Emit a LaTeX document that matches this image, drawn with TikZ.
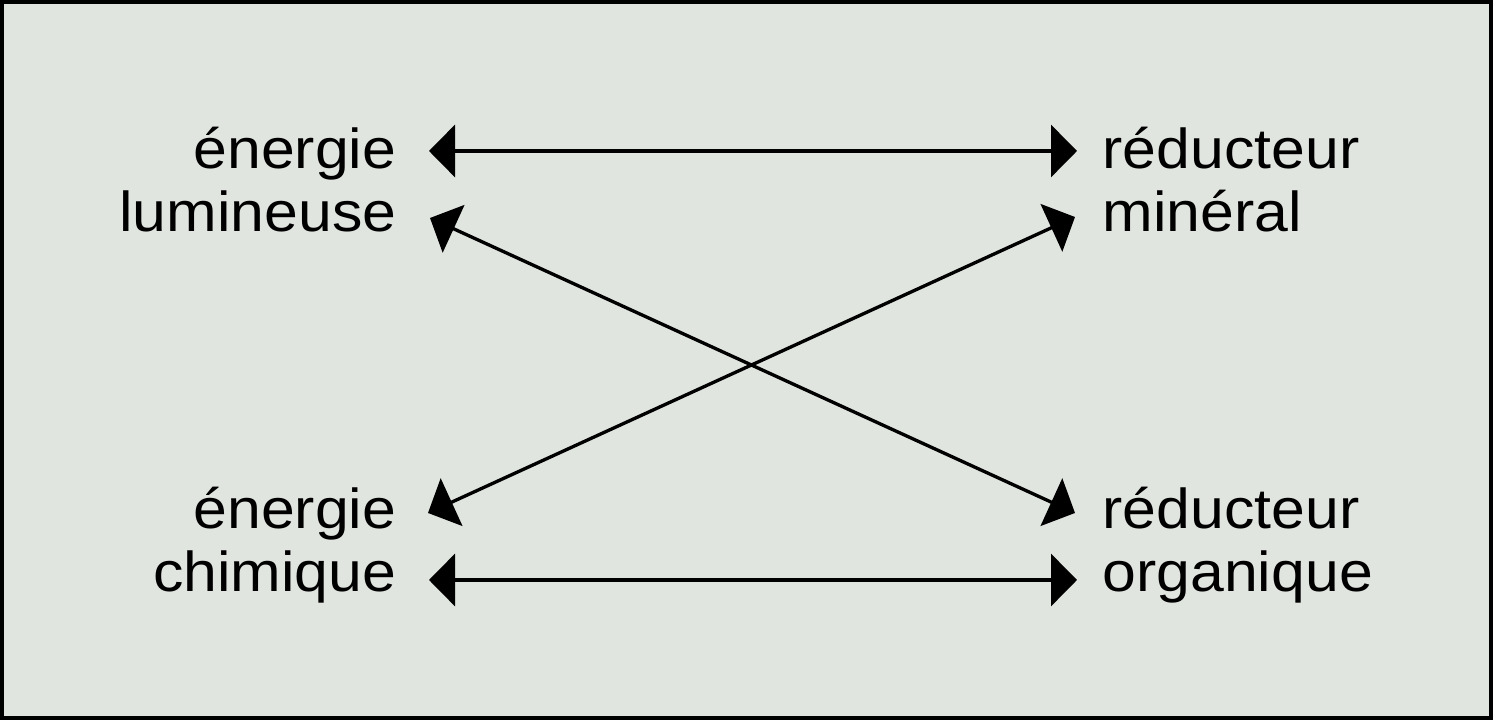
\documentclass[tikz,border=0pt]{standalone}
\usepackage{fontspec}
\setmainfont{Liberation Sans}[FakeStretch=1.08]
\usepackage{xcolor}
\usetikzlibrary{arrows.meta}

\definecolor{panelgray}{RGB}{225,229,224}

\begin{document}
\begin{tikzpicture}[
        >={Triangle[length=0.26cm,width=0.52cm]},
        txt/.style={font=\fontsize{16}{18.2}\selectfont, inner sep=0pt},
        link/.style={<->, line width=0.95pt}
    ]
        \useasboundingbox (0,0) rectangle (15,7.22);
        \draw[line width=0.04cm, fill=panelgray] (0.02,0.04) rectangle (14.905,7.20);

        % Labels left and right (base = last line)
        \node[txt, align=right, anchor=base east] (enlum) at (3.97,4.90) {énergie\\lumineuse};
        \node[txt, align=right, anchor=base east] (enchim) at (3.97,1.30) {énergie\\chimique};
        \node[txt, align=left, anchor=base west] (redmin) at (11.02,4.90) {réducteur\\minéral};
        \node[txt, align=left, anchor=base west] (redorg) at (11.02,1.30) {réducteur\\organique};

        % Arrow ends
        \coordinate (lumTop) at (4.29,5.71);
        \coordinate (lumLow) at (4.30,5.04);
        \coordinate (chimTop) at (4.28,2.09);
        \coordinate (chimLow) at (4.29,1.42);
        \coordinate (minTop) at (10.77,5.71);
        \coordinate (minLow) at (10.75,5.05);
        \coordinate (orgTop) at (10.75,2.09);
        \coordinate (orgLow) at (10.77,1.42);

        \draw[link] (lumTop) -- (minTop);
        \draw[link] (lumLow) -- (orgTop);
        \draw[link] (chimTop) -- (minLow);
        \draw[link] (chimLow) -- (orgLow);
    \end{tikzpicture}
\end{document}
